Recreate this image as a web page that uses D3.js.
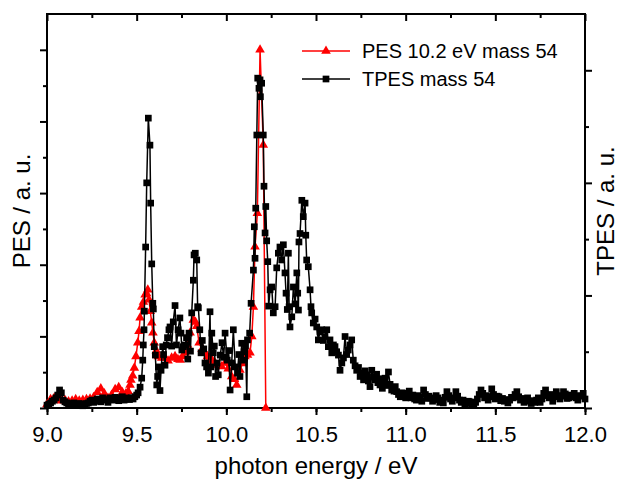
<!DOCTYPE html>
<html>
<head>
<meta charset="utf-8">
<script src="https://cdn.jsdelivr.net/npm/d3@7"></script>
<style>
  html, body { margin: 0; padding: 0; background: #fff; }
  svg { display: block; font-family: Arial, "Liberation Sans", sans-serif; }
</style>
</head>
<body>
<div id="chart"></div>
<script>
// PES 10.2 eV mass 54 (left axis, a. u.)
const pesEnergy = [9.00, 9.02, 9.04, 9.06, 9.08, 9.10, 9.12, 9.14, 9.16, 9.18, 9.20, 9.22, 9.24, 9.26, 9.28, 9.30, 9.32, 9.34, 9.36, 9.38,
  9.40, 9.42, 9.44, 9.453, 9.463, 9.468, 9.478, 9.487, 9.496, 9.506, 9.513, 9.519, 9.528, 9.538, 9.547, 9.555, 9.562, 9.569, 9.576, 9.584,
  9.591, 9.598, 9.61, 9.621, 9.64, 9.658, 9.675, 9.695, 9.714, 9.73, 9.742, 9.756, 9.770, 9.784, 9.798, 9.816, 9.828, 9.835, 9.848, 9.865,
  9.881, 9.895, 9.909, 9.923, 9.937, 9.955, 9.974, 9.993, 10.01, 10.03, 10.045, 10.058, 10.076, 10.09, 10.104, 10.118, 10.132, 10.142, 10.151, 10.160,
  10.173, 10.188, 10.206, 10.220];
const pesValue = [0.05, 0.12, 0.14, 0.12, 0.10, 0.11, 0.09, 0.10, 0.12, 0.10, 0.11, 0.12, 0.13, 0.15, 0.22, 0.27, 0.20, 0.14, 0.18, 0.26,
  0.29, 0.22, 0.20, 0.23, 0.32, 0.39, 0.45, 0.56, 0.72, 0.91, 1.07, 1.26, 1.41, 1.48, 1.58, 1.60, 1.65, 1.51, 1.35, 1.19,
  1.05, 0.91, 0.80, 0.72, 0.70, 0.70, 0.66, 0.70, 0.72, 0.68, 0.67, 0.72, 0.77, 0.88, 1.05, 1.23, 1.20, 1.14, 0.91, 0.82,
  0.77, 0.72, 0.70, 0.66, 0.63, 0.60, 0.58, 0.63, 0.55, 0.44, 0.40, 0.32, 0.53, 0.62, 0.72, 0.74, 0.77, 1.00, 1.41, 2.25,
  2.72, 5.00, 3.67, 0.00];

// TPES mass 54 (right axis, a. u.)
const tpesEnergy = [9.00, 9.01, 9.02, 9.03, 9.04, 9.05, 9.06, 9.07, 9.08, 9.09, 9.10, 9.11, 9.12, 9.13, 9.14, 9.15, 9.16, 9.17, 9.18, 9.19,
  9.20, 9.21, 9.22, 9.23, 9.24, 9.25, 9.26, 9.27, 9.28, 9.29, 9.30, 9.31, 9.32, 9.33, 9.34, 9.35, 9.36, 9.37, 9.38, 9.39,
  9.40, 9.41, 9.42, 9.43, 9.44, 9.45, 9.46, 9.47, 9.48, 9.49, 9.50, 9.508, 9.519, 9.528, 9.534, 9.537, 9.541, 9.543, 9.550, 9.556,
  9.565, 9.574, 9.578, 9.584, 9.590, 9.593, 9.598, 9.604, 9.612, 9.617, 9.621, 9.630, 9.636, 9.645, 9.650, 9.658, 9.665, 9.672, 9.680, 9.686,
  9.695, 9.704, 9.714, 9.722, 9.731, 9.741, 9.747, 9.752, 9.760, 9.770, 9.778, 9.785, 9.792, 9.800, 9.807, 9.816, 9.820, 9.827, 9.835, 9.840,
  9.844, 9.852, 9.859, 9.866, 9.874, 9.881, 9.890, 9.900, 9.909, 9.913, 9.919, 9.927, 9.933, 9.940, 9.948, 9.955, 9.966, 9.976, 9.985, 9.993,
  10.005, 10.013, 10.021, 10.030, 10.039, 10.05, 10.062, 10.070, 10.076, 10.086, 10.092, 10.099, 10.107, 10.114, 10.118, 10.130, 10.138, 10.151, 10.156, 10.160,
  10.164, 10.170, 10.175, 10.182, 10.188, 10.190, 10.197, 10.206, 10.210, 10.216, 10.220, 10.225, 10.231, 10.236, 10.244, 10.253, 10.262, 10.272, 10.281, 10.290,
  10.299, 10.309, 10.318, 10.327, 10.333, 10.340, 10.346, 10.350, 10.355, 10.365, 10.374, 10.384, 10.393, 10.398, 10.402, 10.405, 10.411, 10.421, 10.429, 10.439,
  10.443, 10.448, 10.457, 10.467, 10.472, 10.476, 10.485, 10.495, 10.504, 10.513, 10.522, 10.532, 10.541, 10.550, 10.560, 10.569, 10.578, 10.588, 10.597, 10.606,
  10.615, 10.625, 10.634, 10.644, 10.653, 10.662, 10.671, 10.680, 10.690, 10.699, 10.708, 10.718, 10.727, 10.737, 10.746, 10.755, 10.765, 10.774, 10.783, 10.792,
  10.801, 10.811, 10.820, 10.829, 10.838, 10.845, 10.857, 10.863, 10.870, 10.878, 10.885, 10.895, 10.904, 10.913, 10.922, 10.935, 10.942,
  10.95, 10.96, 10.97, 10.98, 10.99, 11.00, 11.01, 11.02, 11.03, 11.04, 11.05, 11.06, 11.07, 11.08, 11.09, 11.10, 11.11, 11.12, 11.13, 11.14,
  11.15, 11.16, 11.17, 11.18, 11.19, 11.20, 11.21, 11.22, 11.23, 11.24, 11.25, 11.26, 11.27, 11.28, 11.29, 11.30, 11.31, 11.32, 11.33, 11.34,
  11.35, 11.36, 11.37, 11.38, 11.39, 11.40, 11.41, 11.42, 11.43, 11.44, 11.45, 11.46, 11.47, 11.48, 11.49, 11.50, 11.51, 11.52, 11.53, 11.54,
  11.55, 11.56, 11.57, 11.58, 11.59, 11.60, 11.61, 11.62, 11.63, 11.64, 11.65, 11.66, 11.67, 11.68, 11.69, 11.70, 11.71, 11.72, 11.73, 11.74,
  11.75, 11.76, 11.77, 11.78, 11.79, 11.80, 11.81, 11.82, 11.83, 11.84, 11.85, 11.86, 11.87, 11.88, 11.89, 11.90, 11.91, 11.92, 11.93, 11.94,
  11.95, 11.96, 11.97, 11.98, 11.99, 12.00];
const tpesValue = [0.05, 0.07, 0.09, 0.12, 0.14, 0.18, 0.23, 0.32, 0.27, 0.14, 0.11, 0.09, 0.07, 0.05, 0.08, 0.09, 0.06, 0.05, 0.08, 0.07,
  0.04, 0.05, 0.08, 0.09, 0.12, 0.14, 0.10, 0.12, 0.16, 0.14, 0.11, 0.18, 0.15, 0.14, 0.10, 0.18, 0.16, 0.14, 0.19, 0.16,
  0.13, 0.18, 0.20, 0.14, 0.16, 0.18, 0.15, 0.18, 0.16, 0.20, 0.23, 0.27, 0.37, 0.53, 0.85, 1.12, 1.39, 1.72, 2.86, 4.00,
  5.15, 4.67, 3.64, 2.56, 1.86, 1.76, 1.09, 0.94, 0.41, 0.56, 0.73, 0.31, 0.67, 1.09, 0.95, 0.76, 1.12, 1.25, 1.39, 1.44,
  1.10, 1.53, 1.82, 1.12, 1.39, 1.60, 1.33, 1.03, 1.09, 1.12, 1.25, 0.87, 1.33, 1.01, 1.69, 2.27, 2.72, 2.75, 2.63, 1.80,
  1.78, 1.39, 0.98, 1.20, 1.05, 0.80, 0.73, 0.62, 1.71, 0.73, 1.33, 0.98, 1.10, 0.56, 0.80, 0.59, 0.94, 1.16, 0.90, 1.33,
  0.85, 1.02, 0.32, 0.80, 1.39, 0.73, 0.62, 0.95, 0.56, 1.15, 0.85, 1.00, 1.10, 0.20, 1.21, 1.33, 1.86, 2.45, 3.22, 2.66,
  3.55, 4.85, 5.86, 5.68, 5.83, 5.53, 5.77, 4.85, 3.94, 3.11, 3.58, 2.97, 2.60, 1.81, 2.10, 2.15, 1.69, 1.80, 2.49, 2.75,
  2.86, 2.63, 2.90, 2.40, 2.04, 1.75, 2.75, 1.80, 1.44, 1.62, 2.15, 1.85, 2.40, 2.04, 1.74, 2.95, 3.10, 3.69, 3.40, 3.64,
  3.07, 2.63, 2.51, 2.10, 1.80, 1.69, 1.51, 1.58, 1.44, 1.21, 1.35, 1.39, 1.20, 1.27, 1.39, 1.09, 1.21, 0.98, 1.12, 1.09,
  1.00, 0.94, 0.67, 0.80, 0.89, 1.27, 0.95, 1.03, 1.12, 1.21, 0.85, 0.75, 0.67, 0.72, 0.56, 0.62, 0.50, 0.66, 0.59, 0.48,
  0.38, 0.67, 0.55, 0.50, 0.60, 0.45, 0.41, 0.52, 0.35, 0.45, 0.53, 0.40, 0.64, 0.42, 0.32, 0.30, 0.38,
  0.29, 0.24, 0.20, 0.27, 0.22, 0.18, 0.26, 0.30, 0.18, 0.23, 0.16, 0.14, 0.22, 0.20, 0.12, 0.32, 0.24, 0.17, 0.21, 0.18,
  0.12, 0.15, 0.22, 0.18, 0.10, 0.14, 0.09, 0.19, 0.29, 0.22, 0.16, 0.12, 0.18, 0.29, 0.21, 0.14, 0.10, 0.14, 0.06, 0.08,
  0.12, 0.11, 0.05, 0.07, 0.10, 0.16, 0.24, 0.32, 0.26, 0.18, 0.22, 0.14, 0.20, 0.34, 0.24, 0.16, 0.21, 0.20, 0.13, 0.17,
  0.12, 0.15, 0.09, 0.14, 0.19, 0.18, 0.24, 0.29, 0.20, 0.14, 0.17, 0.10, 0.15, 0.18, 0.12, 0.08, 0.13, 0.10, 0.14, 0.18,
  0.10, 0.16, 0.26, 0.32, 0.22, 0.18, 0.24, 0.12, 0.20, 0.29, 0.22, 0.16, 0.21, 0.29, 0.25, 0.17, 0.18, 0.23, 0.20, 0.26,
  0.18, 0.14, 0.22, 0.21, 0.26, 0.16];

const xTicks = [9.0, 9.5, 10.0, 10.5, 11.0, 11.5, 12.0];
const seriesNames = ['PES 10.2 eV mass 54', 'TPES mass 54'];

const W = 627, H = 483;
const margin = { top: 14, right: 42, bottom: 75, left: 47 };
const iw = W - margin.left - margin.right;
const ih = H - margin.top - margin.bottom;

const svg = d3.select('#chart').append('svg')
  .attr('width', W)
  .attr('height', H);
const g = svg.append('g').attr('transform', `translate(${margin.left},${margin.top})`);

const x = d3.scaleLinear().domain([9, 12]).range([0, iw]);
const yL = d3.scaleLinear().domain([0, 5.5]).range([ih, 0]);
const yR = d3.scaleLinear().domain([0, 7]).range([ih, 0]);

const minorX = d3.range(9, 12.001, 0.25);
const fmt = d3.format('.1f');

// bottom axis: major + minor ticks, outward
g.append('g').attr('transform', `translate(0,${ih})`)
  .call(d3.axisBottom(x).tickValues(minorX).tickSize(4).tickFormat(''))
  .call(a => a.select('.domain').remove());
g.append('g').attr('transform', `translate(0,${ih})`)
  .call(d3.axisBottom(x).tickValues(xTicks).tickSize(7).tickPadding(11).tickFormat(fmt))
  .call(a => a.select('.domain').remove())
  .call(a => a.selectAll('text').attr('font-size', 22).attr('fill', '#000').attr('font-family', 'Arial, "Liberation Sans", sans-serif'));

// top axis: inward ticks
g.append('g')
  .call(d3.axisBottom(x).tickValues(minorX.filter(v => xTicks.indexOf(v) < 0)).tickSize(4).tickFormat(''))
  .call(a => a.select('.domain').remove());
g.append('g')
  .call(d3.axisBottom(x).tickValues(xTicks).tickSize(7).tickFormat(''))
  .call(a => a.select('.domain').remove());

// left axis: outward ticks, no labels
g.append('g')
  .call(d3.axisLeft(yL).tickValues(d3.range(0.5, 5.5, 1)).tickSize(4).tickFormat(''))
  .call(a => a.select('.domain').remove());
g.append('g')
  .call(d3.axisLeft(yL).tickValues(d3.range(0, 5.5, 1)).tickSize(7).tickFormat(''))
  .call(a => a.select('.domain').remove());

// right axis: outward ticks, no labels
g.append('g').attr('transform', `translate(${iw},0)`)
  .call(d3.axisRight(yR).tickValues([1, 3, 5]).tickSize(4).tickFormat(''))
  .call(a => a.select('.domain').remove());
g.append('g').attr('transform', `translate(${iw},0)`)
  .call(d3.axisRight(yR).tickValues([0, 2, 4, 6]).tickSize(7).tickFormat(''))
  .call(a => a.select('.domain').remove());

g.selectAll('.tick line').attr('stroke', '#000').attr('stroke-width', 2);

// frame
g.append('rect')
  .attr('width', iw).attr('height', ih)
  .attr('fill', 'none').attr('stroke', '#000').attr('stroke-width', 2);

const pes = pesEnergy.map((e, i) => ({ e, v: pesValue[i] }));
const tpes = tpesEnergy.map((e, i) => ({ e, v: tpesValue[i] }));

const plot = g.append('g');
const tri = d3.symbol().type(d3.symbolTriangle).size(40);
const sq = d3.symbol().type(d3.symbolSquare).size(45);

// PES (red)
plot.append('path').datum(pes)
  .attr('fill', 'none').attr('stroke', '#ff0000').attr('stroke-width', 1.5)
  .attr('d', d3.line().x(d => x(d.e)).y(d => yL(d.v)));
plot.append('g').selectAll('path').data(pes).join('path')
  .attr('d', tri).attr('fill', '#ff0000')
  .attr('transform', d => `translate(${x(d.e)},${yL(d.v)})`);

// TPES (black)
plot.append('path').datum(tpes)
  .attr('fill', 'none').attr('stroke', '#000').attr('stroke-width', 1.5)
  .attr('d', d3.line().x(d => x(d.e)).y(d => yR(d.v)));
plot.append('g').selectAll('path').data(tpes).join('path')
  .attr('d', sq).attr('fill', '#000')
  .attr('transform', d => `translate(${x(d.e)},${yR(d.v)})`);

// legend
const legend = g.append('g').attr('transform', 'translate(255,37)');
const legendColors = ['#ff0000', '#000'];
seriesNames.forEach((name, i) => {
  const row = legend.append('g').attr('transform', `translate(0,${i * 28})`);
  row.append('line').attr('x1', 0).attr('x2', 48).attr('stroke', legendColors[i]).attr('stroke-width', 1.5);
  row.append('path').attr('d', i === 0 ? tri : sq).attr('fill', legendColors[i]).attr('transform', 'translate(24,0)');
  row.append('text').attr('x', 60).attr('dy', '0.35em').attr('font-size', 20).text(name);
});

// axis titles
svg.append('text')
  .attr('x', margin.left + iw / 2).attr('y', 474)
  .attr('text-anchor', 'middle').attr('font-size', 24)
  .text('photon energy / eV');
svg.append('text')
  .attr('transform', `translate(30,${margin.top + ih / 2}) rotate(-90)`)
  .attr('text-anchor', 'middle').attr('font-size', 24)
  .text('PES / a. u.');
svg.append('text')
  .attr('transform', `translate(614,${margin.top + ih / 2}) rotate(-90)`)
  .attr('text-anchor', 'middle').attr('font-size', 24)
  .text('TPES / a. u.');
</script>
</body>
</html>
